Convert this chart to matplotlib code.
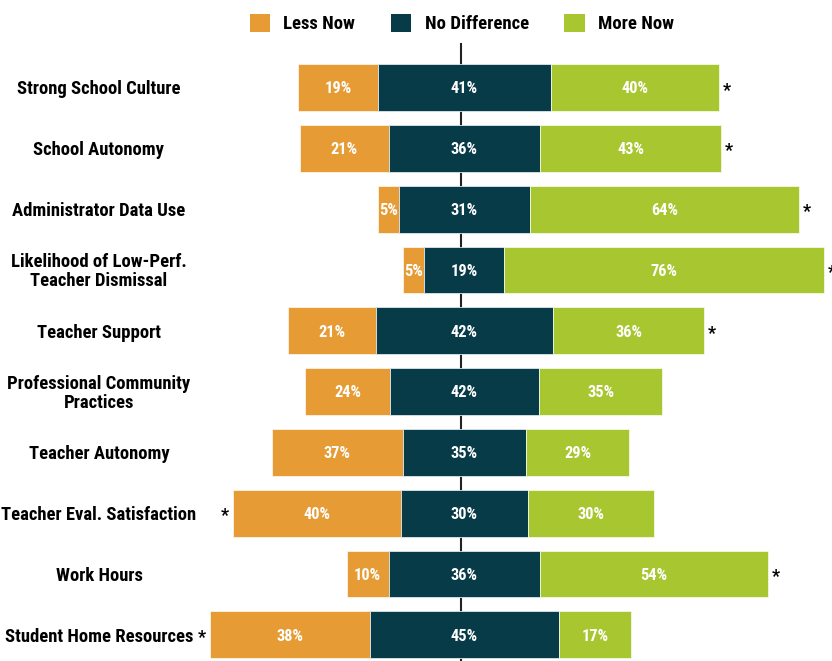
import numpy as np
import matplotlib
matplotlib.use('Agg')
import matplotlib.pyplot as plt
from matplotlib import font_manager
from matplotlib.font_manager import FontProperties
from matplotlib.patches import Patch

categories = ['Strong School Culture', 'School Autonomy', 'Administrator Data Use',
              'Likelihood of Low-Perf.\nTeacher Dismissal', 'Teacher Support',
              'Professional Community\nPractices', 'Teacher Autonomy',
              'Teacher Eval. Satisfaction', 'Work Hours', 'Student Home Resources']
less_now = [19, 21, 5, 5, 21, 24, 37, 40, 10, 38]
no_diff = [41, 36, 31, 19, 42, 42, 35, 30, 36, 45]
more_now = [40, 43, 64, 76, 36, 35, 29, 30, 54, 17]
# relative drawn length of each row (two rows are drawn shorter in the original)
row_width = [1, 1, 1, 1, 1, 0.84, 0.84, 1, 1, 1]
# side on which a significance asterisk is shown
signif = ['right', 'right', 'right', 'right', 'right', None, None, 'left', 'right', 'left']
series_names = ['Less Now', 'No Difference', 'More Now']

c_less = '#E69B34'
c_none = '#083B48'
c_more = '#A8C62F'

# look for a condensed bold face
fp = None
for key in ['RobotoCondensed-Bold', 'LiberationSansNarrow-Bold', 'DejaVuSansCondensed-Bold',
            'OpenSans_Condensed-Bold', 'OpenSansCondensed-Bold']:
    for f in font_manager.fontManager.ttflist:
        if key.lower() in f.fname.lower().replace(' ', ''):
            fp = FontProperties(fname=f.fname)
            break
    if fp is not None:
        break
if fp is None:
    fp = FontProperties(family='DejaVu Sans', weight='bold')

fig = plt.figure(figsize=(8.32, 6.61), dpi=100)
ax = fig.add_axes([0, 0, 1, 1])
renderer = fig.canvas.get_renderer()


def fit_size(text, width_px, base=14):
    t = fig.text(0, 0, text, fontproperties=fp, fontsize=base)
    w = t.get_window_extent(renderer).width
    t.remove()
    return base * width_px / w


lab_fs = fit_size('Strong School Culture', 165)
num_fs = fit_size('41%', 27)
leg_fs = fit_size('No Difference', 104)

y = np.arange(len(categories))
sc = np.array(row_width)
less = np.array(less_now) * sc
nd = np.array(no_diff) * sc
more = np.array(more_now) * sc

left_less = -nd / 2 - less
left_nd = -nd / 2
left_more = nd / 2

ax.plot([-0.7, -0.7], [-0.72, 9.5], color='#222222', lw=1.5, zorder=1)

h = 0.77
ax.barh(y, less, left=left_less, height=h, color=c_less, edgecolor='#fbf3e6', lw=0.6, zorder=2)
ax.barh(y, nd, left=left_nd, height=h, color=c_none, edgecolor='#dfe7ea', lw=0.6, zorder=2)
ax.barh(y, more, left=left_more, height=h, color=c_more, edgecolor='#f4f8e6', lw=0.6, zorder=2)

vals = list(zip(less_now, no_diff, more_now))
for i in range(len(categories)):
    segs = [(left_less[i], less[i]), (left_nd[i], nd[i]), (left_more[i], more[i])]
    for (lft, w), v in zip(segs, vals[i]):
        ax.text(lft + w / 2, y[i] + 0.02, f'{v}%', color='white', ha='center', va='center',
                fontproperties=fp, fontsize=num_fs, zorder=3)
    ax.text(-86.8, y[i] + 0.03, categories[i], ha='center', va='center', fontproperties=fp,
            fontsize=lab_fs, linespacing=1.05)
    if signif[i] == 'right':
        ax.text(left_more[i] + more[i] + 0.9, y[i] + 0.05, '*', ha='left', va='center',
                fontproperties=fp, fontsize=lab_fs * 0.95)
    elif signif[i] == 'left':
        ax.text(left_less[i] - 0.9, y[i] + 0.05, '*', ha='right', va='center',
                fontproperties=fp, fontsize=lab_fs * 0.95)

ax.set_xlim(-110.3, 87.3)
ax.set_ylim(9.43, -1.44)
ax.axis('off')

handles = [Patch(facecolor=c, edgecolor='none') for c in (c_less, c_none, c_more)]
leg_prop = fp.copy()
leg_prop.set_size(leg_fs)
fig.legend(handles, series_names, loc='upper center', bbox_to_anchor=(0.555, 1.005),
           ncol=3, frameon=False, prop=leg_prop, handlelength=1.1, handleheight=1.1,
           columnspacing=1.9, handletextpad=0.7)

fig.savefig('out.png', dpi=100)
